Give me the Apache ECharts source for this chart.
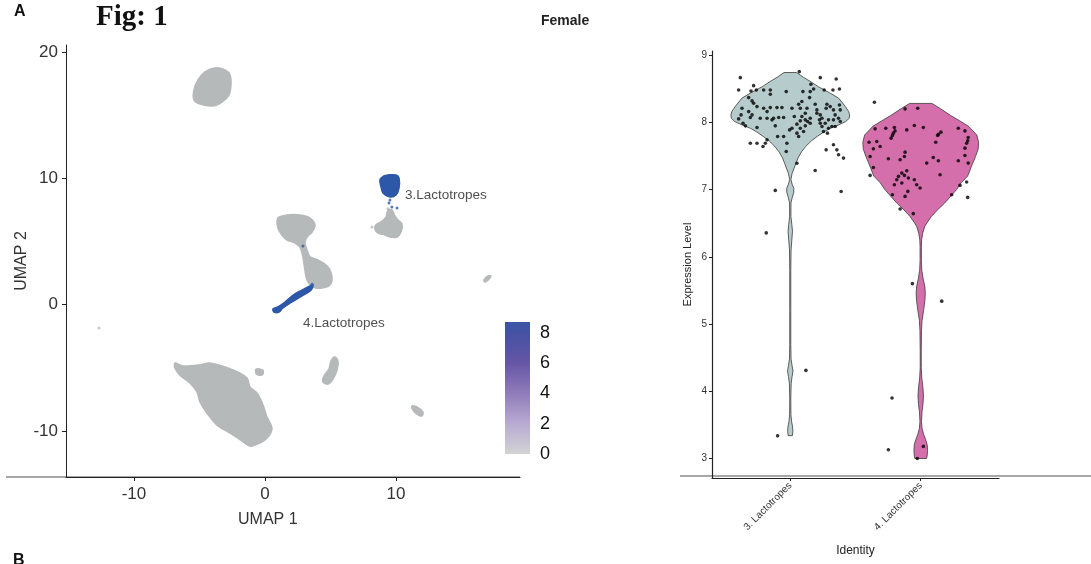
<!DOCTYPE html>
<html><head><meta charset="utf-8">
<script src="https://cdn.jsdelivr.net/npm/echarts@6/dist/echarts.min.js"></script>
<style>html,body{margin:0;padding:0;background:#fff}#c{width:1091px;height:564px}</style>
</head><body><div id="c"></div>
<script>
// ---------- UMAP panel ----------
const umapXTicks = [-10, 0, 10];
const umapYTicks = [-10, 0, 10, 20];
const clusterTop = [[-3.82,18.74],[-3.05,18.58],[-2.67,18.19],[-2.60,17.40],[-2.75,16.60],[-3.28,16.05],[-4.05,15.73],[-4.96,15.89],[-5.42,16.21],[-5.42,17.00],[-5.11,17.79],[-4.58,18.43]];
const clusterMid = [[0.99,6.86],[1.68,7.10],[2.67,7.10],[3.44,6.86],[3.82,6.31],[3.59,5.76],[3.21,5.36],[3.05,4.89],[3.21,4.33],[3.44,3.78],[4.05,3.54],[4.81,2.99],[5.11,2.19],[4.96,1.56],[4.35,1.32],[3.66,1.40],[3.21,1.96],[3.05,2.75],[2.90,3.78],[2.67,4.57],[2.29,4.89],[1.68,5.12],[1.30,5.52],[0.99,6.07]];
const clusterBelow3 = [[9.39,7.50],[9.69,7.50],[9.92,7.02],[10.15,6.71],[10.46,6.39],[10.38,5.76],[10.08,5.36],[9.54,5.36],[9.16,5.52],[8.63,5.68],[8.40,5.99],[8.47,6.31],[8.85,6.55],[9.24,6.94]];
const clusterBig = [[-6.87,-4.62],[-6.26,-4.85],[-4.96,-4.77],[-4.20,-4.62],[-2.44,-5.17],[-1.37,-5.80],[-1.15,-6.52],[-0.61,-6.99],[-0.15,-7.94],[0.15,-8.89],[0.53,-9.76],[0.23,-10.48],[-0.38,-10.95],[-1.15,-11.19],[-2.06,-10.55],[-2.67,-10.16],[-3.66,-9.53],[-4.43,-8.58],[-4.96,-7.70],[-5.19,-6.91],[-5.73,-6.20],[-6.49,-5.57],[-6.87,-5.01]];
const clusterBigBit = [[-0.68,-5.10],[-0.15,-5.20],[-0.20,-5.55],[-0.65,-5.50]];
const clusterSmallA = [[5.34,-4.14],[5.57,-4.46],[5.50,-5.17],[5.19,-5.88],[4.81,-6.28],[4.43,-6.12],[4.50,-5.65],[4.89,-5.09],[5.04,-4.46]];
const clusterSmallB = [[11.22,-8.02],[11.60,-8.10],[12.06,-8.50],[11.98,-8.81],[11.60,-8.65],[11.30,-8.34]];
const clusterFar = [[16.72,1.96],[17.02,2.27],[17.25,2.27],[17.10,2.03],[16.79,1.80]];
const cluster3Blob = [[9.39,10.27],[10.00,10.27],[10.23,10.03],[10.23,9.24],[10.00,8.69],[9.54,8.53],[9.01,8.84],[8.85,9.40],[8.78,9.87],[9.08,10.19]];
const cluster4Streak = [[3.66,1.56],[3.51,1.16],[2.67,0.61],[1.91,0.13],[1.37,-0.26],[1.07,-0.58],[0.69,-0.58],[0.61,-0.34],[0.99,-0.18],[1.53,0.21],[2.29,0.85],[3.13,1.32]];
const grayDots = [[-12.67,-1.84],[8.17,6.15],[9.39,7.60]];
const blueDots = [[9.47,8.05],[9.69,7.74],[10.08,7.66],[9.54,8.29],[2.90,4.64],[3.60,1.62]];
const clusterLabels = ['3.Lactotropes', '4.Lactotropes'];
const clusterLabelPos = [[10.69,8.69],[2.90,-1.45]];
const colorbarTicks = [0, 2, 4, 6, 8];
const colorbarMax = 8.7;
const colorbarStops = [[0,'#d3d3d3'],[2,'#b8abd2'],[4,'#8f7cba'],[6,'#6656a6'],[8,'#4452a3'],[8.7,'#3a56a6']];

// ---------- Violin panel ----------
const violinCategories = ['3. Lactotropes', '4. Lactotropes'];
const violinYTicks = [3, 4, 5, 6, 7, 8, 9];
const violin1Profile = [[3.34,0.016],[3.40,0.02],[3.47,0.018],[3.55,0.01],[3.65,0.005],[3.9,0.004],[4.12,0.007],[4.22,0.014],[4.3,0.021],[4.38,0.014],[4.48,0.006],[4.7,0.004],[5.2,0.004],[5.8,0.004],[6.1,0.006],[6.25,0.012],[6.38,0.017],[6.48,0.012],[6.6,0.005],[6.8,0.005],[6.88,0.015],[6.96,0.027],[7.02,0.027],[7.08,0.014],[7.15,0.005],[7.24,0.014],[7.32,0.03],[7.40,0.045],[7.48,0.062],[7.56,0.086],[7.64,0.118],[7.72,0.16],[7.79,0.207],[7.86,0.26],[7.91,0.305],[7.96,0.37],[8.01,0.425],[8.06,0.452],[8.11,0.455],[8.16,0.448],[8.24,0.42],[8.3,0.395],[8.36,0.37],[8.44,0.3],[8.53,0.214],[8.6,0.16],[8.67,0.1],[8.74,0.048]];
const violin2Profile = [[3.0,0.045],[3.05,0.05],[3.12,0.052],[3.2,0.05],[3.28,0.038],[3.36,0.022],[3.45,0.01],[3.55,0.006],[3.7,0.01],[3.8,0.017],[3.93,0.021],[4.05,0.017],[4.2,0.008],[4.35,0.004],[4.6,0.004],[4.9,0.006],[5.05,0.01],[5.2,0.022],[5.35,0.032],[5.45,0.035],[5.55,0.032],[5.68,0.018],[5.8,0.008],[5.95,0.005],[6.15,0.005],[6.25,0.007],[6.35,0.015],[6.45,0.031],[6.5,0.046],[6.6,0.082],[6.7,0.13],[6.8,0.184],[6.9,0.23],[7.0,0.275],[7.1,0.31],[7.2,0.36],[7.35,0.39],[7.49,0.42],[7.6,0.44],[7.7,0.444],[7.81,0.43],[7.94,0.367],[8.02,0.3],[8.1,0.23],[8.2,0.153],[8.28,0.086]];
const violin1Points = [[0.617,8.664],[0.604,8.481],[0.719,8.545],[0.740,8.481],[0.699,8.466],[0.681,8.367],[0.707,8.318],[0.796,8.481],[0.847,8.481],[0.847,8.417],[0.969,8.456],[1.069,8.753],[1.230,8.664],[1.352,8.644],[1.158,8.565],[1.179,8.496],[1.153,8.456],[1.097,8.456],[1.260,8.481],[1.327,8.481],[1.377,8.496],[0.630,8.209],[0.719,8.283],[0.745,8.233],[0.681,8.159],[0.707,8.110],[0.694,8.070],[0.623,8.110],[0.604,8.050],[0.638,7.986],[0.656,7.947],[0.745,7.922],[0.770,8.061],[0.796,8.209],[0.822,8.159],[0.847,8.218],[0.872,8.061],[0.898,8.218],[0.936,8.218],[0.949,8.070],[0.885,7.947],[0.822,8.061],[1.013,8.209],[1.064,8.268],[1.077,8.209],[1.089,8.308],[1.148,8.367],[1.191,8.268],[1.204,8.184],[1.128,8.209],[1.115,8.135],[1.089,8.085],[1.077,8.021],[1.031,8.085],[1.051,7.972],[0.995,7.887],[1.013,7.912],[0.949,7.788],[0.903,7.788],[1.051,7.838],[1.064,7.788],[1.115,8.036],[1.133,8.011],[1.153,8.061],[1.204,8.135],[1.230,8.110],[1.224,8.036],[1.230,7.986],[1.243,8.061],[1.275,8.209],[1.281,8.268],[1.306,8.233],[1.331,8.184],[1.377,8.258],[1.383,8.184],[1.344,8.110],[1.370,8.061],[1.383,8.011],[1.331,8.036],[1.293,8.036],[1.268,7.986],[1.243,7.937],[1.293,7.912],[1.319,7.937],[1.285,7.838],[1.255,7.862],[1.344,7.937],[0.694,7.689],[0.745,7.689],[0.809,7.689],[0.791,7.640],[0.822,7.739],[0.974,7.689],[0.969,7.565],[1.331,7.665],[1.357,7.590],[1.275,7.590],[1.370,7.516],[1.408,7.467],[0.860,8.036],[0.911,8.070],[1.077,7.912],[1.102,7.862],[1.115,7.947],[1.153,7.986],[0.885,6.987],[1.390,6.970],[0.816,6.355],[1.191,7.283],[1.051,7.390],[1.120,4.310],[0.903,3.337]];
const violin2Points = [[1.645,8.298],[1.880,8.199],[1.977,8.209],[1.650,7.902],[1.732,7.912],[1.798,7.922],[1.803,7.872],[1.790,7.838],[1.783,7.803],[1.773,7.764],[1.893,7.887],[1.951,7.951],[2.020,7.922],[2.155,7.853],[2.135,7.823],[2.130,7.803],[2.288,7.912],[2.339,7.872],[2.364,7.773],[2.360,7.724],[2.352,7.689],[2.339,7.615],[1.604,7.704],[1.663,7.714],[1.689,7.640],[1.637,7.605],[1.612,7.491],[1.752,7.457],[1.842,7.442],[1.880,7.556],[1.875,7.491],[2.115,7.704],[2.339,7.506],[2.364,7.393],[2.288,7.427],[2.096,7.476],[2.135,7.427],[2.046,7.393],[1.637,7.328],[1.612,7.210],[1.893,7.279],[1.855,7.244],[1.875,7.210],[1.829,7.195],[1.816,7.145],[1.855,7.096],[1.905,7.171],[1.951,7.145],[1.798,7.071],[1.969,7.071],[1.995,7.022],[1.901,6.972],[1.880,6.898],[1.783,6.923],[2.148,7.220],[2.301,7.061],[2.352,7.111],[2.237,6.923],[2.360,6.883],[1.842,6.711],[1.943,6.641],[1.936,5.600],[2.161,5.340],[1.780,3.900],[1.752,3.130],[2.020,3.180],[1.974,3.000]];

// ---------- build ----------
const FONT = '"Liberation Sans", Arial, sans-serif';
const GRAY = '#b6b9b9', BLUE = '#2d57a8';
const grayClusters = [clusterTop, clusterMid, clusterBelow3, clusterBig, clusterBigBit, clusterSmallA, clusterSmallB, clusterFar];
const blueClusters = [cluster3Blob, cluster4Streak];
const violinProfiles = [violin1Profile, violin2Profile];
const violinColors = ['#b6cbcb', '#d56fab'];

function polySeries(list, color) {
  return {
    type: 'custom', xAxisIndex: 0, yAxisIndex: 0, silent: true,
    data: list.map(p => p[0]),
    renderItem: (params, api) => {
      const pts = list[params.dataIndex].map(p => api.coord(p));
      return { type: 'polygon', shape: { points: pts, smooth: 0.3 },
        style: { fill: color, stroke: color, lineWidth: 1.6, lineJoin: 'round' } };
    }
  };
}

const chart = echarts.init(document.getElementById('c'));
chart.setOption({
  animation: false,
  textStyle: { fontFamily: FONT },
  title: [
    { text: 'A', left: 14, top: 4, padding: 0, textStyle: { fontFamily: FONT, fontWeight: 'bold', fontSize: 16, color: '#111' } },
    { text: 'Fig: 1', left: 96, top: 3, padding: 0, textStyle: { fontFamily: '"Liberation Serif", serif', fontWeight: 'bold', fontSize: 29, color: '#111' } },
    { text: 'Female', left: 541, top: 14, padding: 0, textStyle: { fontFamily: FONT, fontWeight: 'bold', fontSize: 14, color: '#222' } },
    { text: 'B', left: 13, top: 553, padding: 0, textStyle: { fontFamily: FONT, fontWeight: 'bold', fontSize: 16, color: '#111' } },
    { text: 'UMAP 1', left: 238, top: 512, padding: 0, textStyle: { fontFamily: FONT, fontWeight: 'normal', fontSize: 16, color: '#333' } }
  ],
  graphic: [
    { type: 'line', z: -1, shape: { x1: 6, y1: 477, x2: 520, y2: 477 }, style: { stroke: '#8a8a8a', lineWidth: 1.5 } },
    { type: 'line', z: -1, shape: { x1: 680, y1: 476, x2: 1091, y2: 476 }, style: { stroke: '#8a8a8a', lineWidth: 1.5 } }
  ],
  grid: [
    { left: 66, top: 45, width: 454, height: 432, outerBoundsMode: 'none' },
    { left: 712, top: 51, width: 287, height: 427, outerBoundsMode: 'none' },
    { left: 505, top: 322, width: 25, height: 132, outerBoundsMode: 'none' }
  ],
  xAxis: [
    { gridIndex: 0, type: 'value', min: -15.19, max: 19.47, splitLine: { show: false },
      axisLine: { onZero: false, lineStyle: { color: '#222', width: 1 } },
      axisTick: { customValues: umapXTicks, length: 4, lineStyle: { color: '#222' } },
      axisLabel: { customValues: umapXTicks, fontSize: 17, color: '#333', margin: 9 } },
    { gridIndex: 1, type: 'value', min: 0.4, max: 2.6, splitLine: { show: false },
      name: 'Identity', nameLocation: 'middle', nameGap: 67, nameTextStyle: { fontSize: 12, color: '#222' },
      axisLine: { onZero: false, lineStyle: { color: '#222', width: 1.2 } },
      axisTick: { customValues: [1, 2], length: 3, lineStyle: { color: '#222' } },
      axisLabel: { customValues: [1, 2], rotate: 45, fontSize: 10, color: '#333', margin: 6,
        formatter: v => violinCategories[Math.round(v) - 1] } },
    { gridIndex: 2, type: 'category', data: [''], show: false }
  ],
  yAxis: [
    { gridIndex: 0, type: 'value', min: -13.64, max: 20.56, splitLine: { show: false },
      name: 'UMAP 2', nameLocation: 'middle', nameGap: 27, nameTextStyle: { fontSize: 16, color: '#333' },
      axisLine: { onZero: false, lineStyle: { color: '#222', width: 1 } },
      axisTick: { customValues: umapYTicks, length: 4, lineStyle: { color: '#222' } },
      axisLabel: { customValues: umapYTicks, fontSize: 17, color: '#333', margin: 8 } },
    { gridIndex: 1, type: 'value', min: 2.71, max: 9.06, splitLine: { show: false },
      name: 'Expression Level', nameLocation: 'middle', nameGap: 19, nameTextStyle: { fontSize: 11, color: '#222' },
      axisLine: { onZero: false, lineStyle: { color: '#222', width: 1.2 } },
      axisTick: { customValues: violinYTicks, length: 3, lineStyle: { color: '#222' } },
      axisLabel: { customValues: violinYTicks, fontSize: 10, color: '#333', margin: 5 } },
    { gridIndex: 2, type: 'value', position: 'right', min: 0, max: colorbarMax, z: 5, splitLine: { show: false },
      axisLine: { show: false },
      axisTick: { customValues: colorbarTicks, inside: true, length: 5, lineStyle: { color: '#ffffff', width: 1 } },
      axisLabel: { customValues: colorbarTicks, fontSize: 18, color: '#111', margin: 10 } },
    { gridIndex: 2, type: 'value', position: 'left', min: 0, max: colorbarMax, z: 5, splitLine: { show: false },
      axisLine: { show: false },
      axisTick: { customValues: colorbarTicks, inside: true, length: 5, lineStyle: { color: '#ffffff', width: 1 } },
      axisLabel: { show: false } }
  ],
  series: [
    polySeries(grayClusters, GRAY),
    polySeries(blueClusters, BLUE),
    { type: 'scatter', xAxisIndex: 0, yAxisIndex: 0, data: grayDots, symbolSize: 3, itemStyle: { color: GRAY }, silent: true },
    { type: 'scatter', xAxisIndex: 0, yAxisIndex: 0, data: blueDots, symbolSize: 3, itemStyle: { color: BLUE }, silent: true },
    { type: 'scatter', xAxisIndex: 0, yAxisIndex: 0, symbolSize: 0, silent: true,
      data: clusterLabelPos.map((p, i) => ({ value: p, name: clusterLabels[i] })),
      label: { show: true, position: 'right', distance: 0, formatter: p => p.name, fontSize: 13.5, color: '#222' } },
    { type: 'custom', xAxisIndex: 1, yAxisIndex: 1, silent: true,
      data: [[1, 8], [2, 7.5]],
      renderItem: (params, api) => {
        const i = params.dataIndex, prof = violinProfiles[i], cx = i + 1;
        const right = prof.map(([v, w]) => api.coord([cx + w, v]));
        const left = prof.slice().reverse().map(([v, w]) => api.coord([cx - w, v]));
        return { type: 'polygon', shape: { points: right.concat(left) },
          style: { fill: violinColors[i], stroke: '#3a3a3a', lineWidth: 0.8 } };
      } },
    { type: 'scatter', xAxisIndex: 1, yAxisIndex: 1, data: violin1Points.concat(violin2Points), symbolSize: 3.6,
      itemStyle: { color: '#000' }, silent: true, z: 4 },
    { type: 'bar', xAxisIndex: 2, yAxisIndex: 2, data: [colorbarMax], barWidth: '100%', silent: true,
      itemStyle: { color: new echarts.graphic.LinearGradient(0, 0, 0, 1,
        colorbarStops.map(([v, c]) => ({ offset: 1 - v / colorbarMax, color: c })).reverse()) } }
  ]
});
</script></body></html>
